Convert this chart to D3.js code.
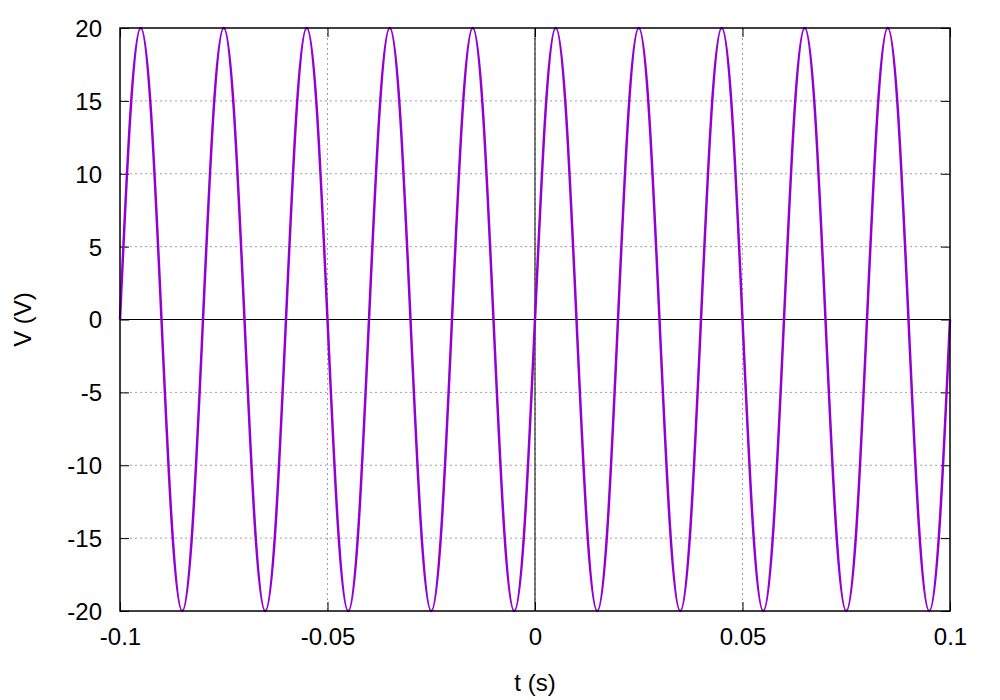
<!DOCTYPE html>
<html>
<head>
<meta charset="utf-8">
<script src="https://cdn.jsdelivr.net/npm/d3@7"></script>
<style>
  body { margin: 0; background: #fff; }
  svg { display: block; }
  text { font-family: "Liberation Sans", Arial, sans-serif; fill: #000; }
</style>
</head>
<body>
<svg id="chart" width="1000" height="700"></svg>
<script>
// Time samples (s), every 1/8 period of the 50 Hz waveform
const tValues = [
  -0.1, -0.0975, -0.095, -0.0925, -0.09, -0.0875, -0.085, -0.0825,
  -0.08, -0.0775, -0.075, -0.0725, -0.07, -0.0675, -0.065, -0.0625,
  -0.06, -0.0575, -0.055, -0.0525, -0.05, -0.0475, -0.045, -0.0425,
  -0.04, -0.0375, -0.035, -0.0325, -0.03, -0.0275, -0.025, -0.0225,
  -0.02, -0.0175, -0.015, -0.0125, -0.01, -0.0075, -0.005, -0.0025,
  0, 0.0025, 0.005, 0.0075, 0.01, 0.0125, 0.015, 0.0175,
  0.02, 0.0225, 0.025, 0.0275, 0.03, 0.0325, 0.035, 0.0375,
  0.04, 0.0425, 0.045, 0.0475, 0.05, 0.0525, 0.055, 0.0575,
  0.06, 0.0625, 0.065, 0.0675, 0.07, 0.0725, 0.075, 0.0775,
  0.08, 0.0825, 0.085, 0.0875, 0.09, 0.0925, 0.095, 0.0975,
  0.1
];
// Voltage (V)
const vValues = [
  0, 14.1, 20, 14.1, 0, -14.1, -20, -14.1,
  0, 14.1, 20, 14.1, 0, -14.1, -20, -14.1,
  0, 14.1, 20, 14.1, 0, -14.1, -20, -14.1,
  0, 14.1, 20, 14.1, 0, -14.1, -20, -14.1,
  0, 14.1, 20, 14.1, 0, -14.1, -20, -14.1,
  0, 14.1, 20, 14.1, 0, -14.1, -20, -14.1,
  0, 14.1, 20, 14.1, 0, -14.1, -20, -14.1,
  0, 14.1, 20, 14.1, 0, -14.1, -20, -14.1,
  0, 14.1, 20, 14.1, 0, -14.1, -20, -14.1,
  0, 14.1, 20, 14.1, 0, -14.1, -20, -14.1,
  0
];
const xTicks = [-0.1, -0.05, 0, 0.05, 0.1];
const xTickLabels = ["-0.1", "-0.05", "0", "0.05", "0.1"];
const yTicks = [-20, -15, -10, -5, 0, 5, 10, 15, 20];
const yTickLabels = ["-20", "-15", "-10", "-5", "0", "5", "10", "15", "20"];
const xTitle = "t (s)";
const yTitle = "V (V)";

const FS = "24px";
const svg = d3.select("#chart");
const L = 120, R = 950, T = 28, B = 611;
const x = d3.scaleLinear().domain([-0.1, 0.1]).range([L, R]);
const y = d3.scaleLinear().domain([-20, 20]).range([B, T]);

// grid
const grid = svg.append("g");
grid.selectAll(".gx").data(xTicks.filter(d => d > -0.1 && d < 0.1)).enter()
  .append("line")
  .attr("x1", d => x(d)).attr("x2", d => x(d)).attr("y1", T).attr("y2", B)
  .attr("stroke", "#a0a0a0").attr("stroke-width", 1).attr("stroke-dasharray", "2,3");
grid.selectAll(".gy").data(yTicks.filter(d => d > -20 && d < 20)).enter()
  .append("line")
  .attr("x1", L).attr("x2", R).attr("y1", d => y(d)).attr("y2", d => y(d))
  .attr("stroke", "#a0a0a0").attr("stroke-width", 1).attr("stroke-dasharray", "2,3");

// zero axes
svg.append("line").attr("x1", L).attr("x2", R).attr("y1", y(0)).attr("y2", y(0))
  .attr("stroke", "#000").attr("stroke-width", 1);
svg.append("line").attr("x1", x(0)).attr("x2", x(0)).attr("y1", T).attr("y2", B)
  .attr("stroke", "#000").attr("stroke-width", 1);

// axes with inward ticks (mirrored)
const tickLen = 9;
const axB = svg.append("g").attr("transform", `translate(0,${B})`)
  .call(d3.axisBottom(x).tickValues(xTicks).tickSize(-tickLen).tickPadding(17)
    .tickFormat((d, i) => xTickLabels[i]));
const axT = svg.append("g").attr("transform", `translate(0,${T})`)
  .call(d3.axisTop(x).tickValues(xTicks).tickSize(-tickLen).tickFormat(""));
const axL = svg.append("g").attr("transform", `translate(${L},0)`)
  .call(d3.axisLeft(y).tickValues(yTicks).tickSize(-tickLen).tickPadding(18)
    .tickFormat((d, i) => yTickLabels[i]));
const axR = svg.append("g").attr("transform", `translate(${R},0)`)
  .call(d3.axisRight(y).tickValues(yTicks).tickSize(-tickLen).tickFormat(""));
[axB, axT, axL, axR].forEach(a => {
  a.attr("font-size", null).attr("font-family", null);
  a.select(".domain").remove();
  a.selectAll(".tick line").attr("stroke", "#000").attr("stroke-width", 1);
  a.selectAll("text").style("font-size", FS).style("font-family", "Liberation Sans, Arial, sans-serif").attr("fill", "#000");
});
axB.selectAll("text").attr("dy", "0.71em");
axL.selectAll("text").attr("dy", "0.35em");

// curve
const pts = tValues.map((t, i) => [t, vValues[i]]);
const line = d3.line().x(d => x(d[0])).y(d => y(d[1])).curve(d3.curveNatural);
svg.append("path").datum(pts).attr("d", line)
  .attr("fill", "none").attr("stroke", "#9400d3").attr("stroke-width", 2.5)
  .attr("stroke-linejoin", "round");

// border
svg.append("rect").attr("x", L).attr("y", T).attr("width", R - L).attr("height", B - T)
  .attr("fill", "none").attr("stroke", "#000").attr("stroke-width", 1.5);

// titles
svg.append("text").attr("x", (L + R) / 2).attr("y", 691).attr("text-anchor", "middle")
  .style("font-size", FS).text(xTitle);
svg.append("text").attr("transform", `translate(31,${(T + B) / 2}) rotate(-90)`)
  .attr("text-anchor", "middle").style("font-size", FS).text(yTitle);
</script>
</body>
</html>
